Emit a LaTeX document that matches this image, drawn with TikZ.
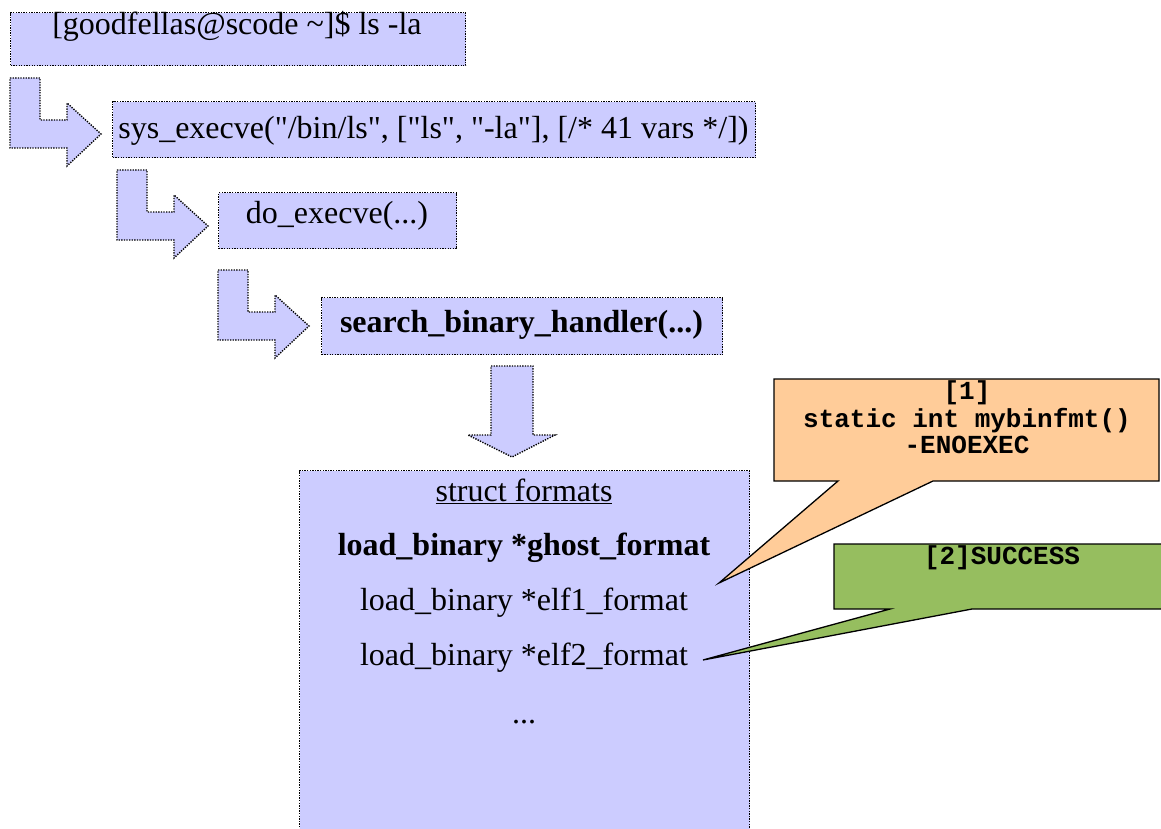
\documentclass[tikz,border=0pt]{standalone}
\usepackage{fontspec}
\setmainfont{Liberation Serif}
\newfontfamily\plainrm{Liberation Serif}
\setmonofont{Liberation Mono}
\definecolor{lav}{HTML}{CCCCFF}
\definecolor{peach}{HTML}{FFCC99}
\definecolor{leaf}{HTML}{96BE5F}
\tikzset{
  dotbox/.style={draw=black, fill=lav, line width=1.4pt, dash pattern=on 1.3pt off 1.3pt, inner sep=0pt},
  dotshape/.style={draw=black, fill=lav, line width=1.4pt, dash pattern=on 1.3pt off 1.3pt},
  serif/.style={font=\fontsize{32}{38}\selectfont, inner sep=0pt},
  bserif/.style={font=\fontsize{32}{38}\selectfont\bfseries, inner sep=0pt},
  mono/.style={font=\fontsize{26}{27}\selectfont\ttfamily\bfseries, inner sep=0pt, align=center},
  callout/.style={draw=black, line width=1.3pt, line join=miter},
  larrow/.pic={
    \path[dotshape] (0,0) -- (30,0) -- (30,42) -- (57,42) -- (57,25) -- (91,56)
      -- (57,88) -- (57,70) -- (0,70) -- cycle;
  }
}
\begin{document}
\begin{tikzpicture}[x=1pt,y=-1pt]
\useasboundingbox (0,0) rectangle (1161,829);
% boxes
\node[dotbox, anchor=north west, minimum width=455pt, minimum height=53pt] (b1) at (10,12) {};
\node[serif, anchor=base] (t1) at (237,35) {[goodfellas@scode \textasciitilde]\$ ls -la};
\pic at (10,78) {larrow};
\node[dotbox, anchor=north west, minimum width=643pt, minimum height=56pt] (b2) at (112,101) {};
\node[serif, anchor=base] (t2) at (433.5,139) {\plainrm sys\_execve("/bin/ls", ["ls", "-la"], [/* 41 vars */])};
\pic at (117,170) {larrow};
\node[dotbox, anchor=north west, minimum width=238pt, minimum height=56pt] (b3) at (218,192) {};
\node[serif, anchor=base] (t3) at (337,223) {do\_execve(...)};
\pic at (218,270) {larrow};
\node[dotbox, anchor=north west, minimum width=401pt, minimum height=57pt] (b4) at (321,297) {};
\node[bserif, anchor=base] (t4) at (521.5,332) {search\_binary\_handler(...)};
% down arrow
\path[dotshape] (491,366) -- (533,366) -- (533,435) -- (555,435) -- (512,457) -- (468,435) -- (491,435) -- cycle;
% struct box
\node[dotbox, anchor=north west, minimum width=450pt, minimum height=380pt] (sb) at (299,470) {};
\node[serif, anchor=base] (s0) at (524,501) {\underline{struct formats}};
\node[bserif, anchor=base] (s1) at (524,555) {load\_binary *ghost\_format};
\node[serif, anchor=base] (s2) at (524,610) {load\_binary *elf1\_format};
\node[serif, anchor=base] (s3) at (524,665) {load\_binary *elf2\_format};
\node[serif, anchor=base] (s4) at (524,723) {...};
% callouts
\coordinate (tip1) at (719,583);
\coordinate (tip2) at (703,660);
\path[callout, fill=peach] (774,379) -- (1159,379) -- (1159,481) -- (933,481) -- (tip1) -- (838,481) -- (774,481) -- cycle;
\node[mono, anchor=base] (c1) at (967,399) {[1]};
\node[mono, anchor=base] (c2) at (967,427) {static int mybinfmt()};
\node[mono, anchor=base] (c3) at (967,453) {-ENOEXEC};
\path[callout, fill=leaf] (834,544) -- (1180,544) -- (1180,609) -- (972,609) -- (tip2) -- (890,609) -- (834,609) -- cycle;
\node[mono, anchor=base] (c4) at (1002,564) {[2]SUCCESS};
\end{tikzpicture}
\end{document}
